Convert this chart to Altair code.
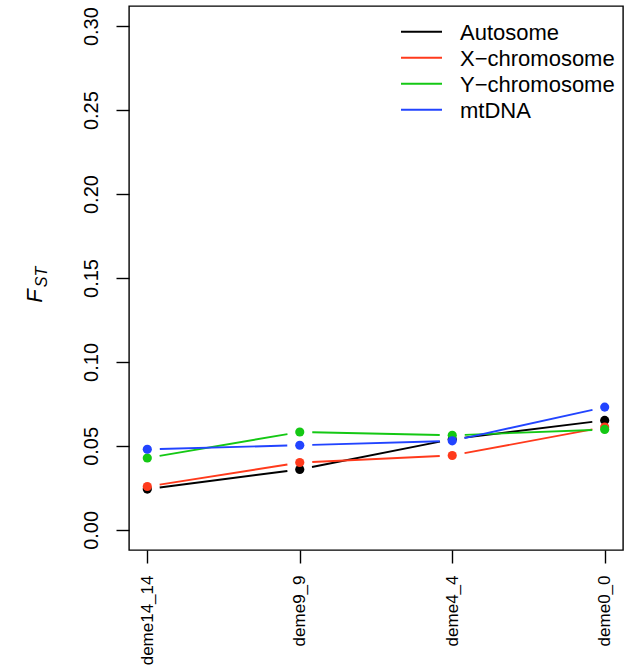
import json
import altair as alt
import pandas as pd

# ---------------- data ----------------
demes = ["deme14_14", "deme9_9", "deme4_4", "deme0_0"]
series = ["Autosome", "X\u2212chromosome", "Y\u2212chromosome", "mtDNA"]
autosome = [0.0243, 0.0360, 0.0540, 0.0652]
x_chrom = [0.0258, 0.0401, 0.0443, 0.0612]
y_chrom = [0.0428, 0.0583, 0.0563, 0.0598]
mtdna = [0.0480, 0.0504, 0.0530, 0.0731]
colors = ["#000000", "#FF3A1C", "#14C814", "#2244FF"]
y_ticks = [0.00, 0.05, 0.10, 0.15, 0.20, 0.25, 0.30]
title_parts = ["F", "ST"]

all_vals = [autosome, x_chrom, y_chrom, mtdna]

# ---------------- layout constants ----------------
W, H = 494, 544
XDOM = [-0.12, 3.12]
YDOM = [-0.012, 0.312]
PX = W / (XDOM[1] - XDOM[0])
PY = H / (YDOM[1] - YDOM[0])
GAP = 12.5
FONT = "Liberation Sans"
LW = 1.9

rows = []
segs = []
for si, (s, vals) in enumerate(zip(series, all_vals)):
    for i, v in enumerate(vals):
        rows.append({"series": s, "sidx": si, "idx": i, "deme": demes[i], "value": v})
    for i in range(len(vals) - 1):
        segs.append({"series": s, "sidx": si, "x0": i, "y0": vals[i], "x1": i + 1, "y1": vals[i + 1]})
df = pd.DataFrame(rows)
seg_df = pd.DataFrame(segs)

color_scale = alt.Scale(domain=series, range=colors)
label_expr = json.dumps(demes) + "[datum.value]"

x_axis = alt.Axis(values=[0, 1, 2, 3], labelExpr=label_expr, labelAngle=270,
                  labelAlign="right", labelBaseline="middle", labelFontSize=17,
                  labelPadding=12, title="")
y_axis = alt.Axis(values=y_ticks, format=".2f", labelAngle=270, labelAlign="center",
                  labelBaseline="alphabetic", labelFontSize=20, labelPadding=19, title="")
xs = alt.Scale(domain=XDOM, nice=False, zero=False)
ys = alt.Scale(domain=YDOM, nice=False, zero=False)

segments = alt.Chart(seg_df).transform_calculate(
    dx=f"(datum.x1-datum.x0)*{PX}",
    dy=f"(datum.y1-datum.y0)*{PY}",
).transform_calculate(
    g=f"{GAP}/sqrt(datum.dx*datum.dx+datum.dy*datum.dy)"
).transform_calculate(
    xa="datum.x0+(datum.x1-datum.x0)*datum.g",
    ya="datum.y0+(datum.y1-datum.y0)*datum.g",
    xb="datum.x1-(datum.x1-datum.x0)*datum.g",
    yb="datum.y1-(datum.y1-datum.y0)*datum.g",
).mark_rule(strokeWidth=LW).encode(
    x=alt.X("xa:Q", scale=xs, axis=x_axis),
    x2="xb:Q",
    y=alt.Y("ya:Q", scale=ys, axis=y_axis),
    y2="yb:Q",
    color=alt.Color("series:N", scale=color_scale, legend=None),
)

points = alt.Chart(df).mark_circle(size=84, opacity=1).encode(
    x=alt.X("idx:Q", scale=xs, title=""),
    y=alt.Y("value:Q", scale=ys, title=""),
    color=alt.Color("series:N", scale=color_scale, legend=None),
)

layers = [segments, points]

# legend (manual, R-style without box)
for i, s in enumerate(series):
    ldf = pd.DataFrame({"series": [s]})
    yy = 25.7 + 26 * i
    layers.append(alt.Chart(ldf).mark_rule(color=colors[i], strokeWidth=LW).encode(
        x=alt.value(272), x2=alt.value(313), y=alt.value(yy)))
    layers.append(alt.Chart(ldf).mark_text(align="left", baseline="middle", fontSize=22,
                                            font=FONT, color="black").encode(
        x=alt.value(331), y=alt.value(yy + 1), text="series:N"))

# y-axis title F_ST (F with subscript ST)
layers.append(alt.Chart(pd.DataFrame({"t": [title_parts[0]]})).mark_text(
    angle=270, align="center", baseline="alphabetic", fontSize=22, font=FONT,
    fontStyle="italic", color="black").encode(
    x=alt.value(-87), y=alt.value(290), text="t:N"))
layers.append(alt.Chart(pd.DataFrame({"t": [title_parts[1]]})).mark_text(
    angle=270, align="center", baseline="alphabetic", fontSize=16, font=FONT,
    fontStyle="italic", color="black").encode(
    x=alt.value(-82), y=alt.value(271), text="t:N"))

chart = alt.layer(*layers).properties(
    width=W, height=H,
    padding={"left": 129, "top": 6, "right": 12, "bottom": 117},
    autosize=alt.AutoSizeParams(type="none"),
    background="white",
).configure_view(
    stroke="black", strokeWidth=1.4
).configure_axis(
    domain=False, grid=False, ticks=True, tickSize=13, tickColor="black",
    tickWidth=1.4, labelColor="black", labelFont=FONT,
)

chart.save("out.html", embed_options={"renderer": "svg", "actions": False})
